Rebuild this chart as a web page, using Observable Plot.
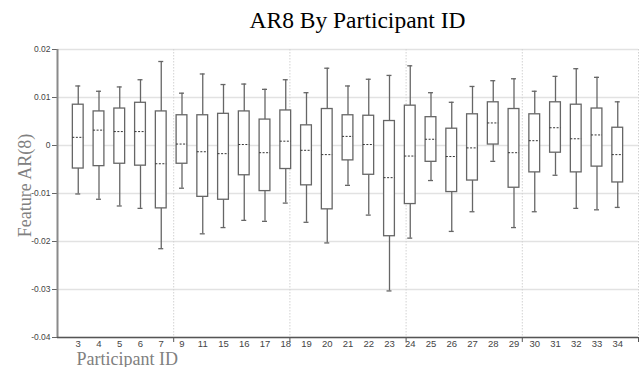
<!DOCTYPE html>
<html>
<head>
<meta charset="utf-8">
<script src="https://cdn.jsdelivr.net/npm/d3@7"></script>
<script src="https://cdn.jsdelivr.net/npm/@observablehq/plot@0.6"></script>
<style>
  html, body { margin: 0; padding: 0; background: #fff; }
  svg { display: block; }
</style>
</head>
<body>
<div id="chart"></div>
<script>
const title = "AR8 By Participant ID";
const xLabel = "Participant ID";
const yLabel = "Feature AR(8)";
const ids = [3,4,5,6,7,9,11,15,16,17,18,19,20,21,22,23,24,25,26,27,28,29,30,31,32,33,34];
const whiskerHigh = [0.0124,0.0113,0.0122,0.0137,0.0175,0.0109,0.0149,0.0127,0.0128,0.0117,0.0137,0.0110,0.0161,0.0124,0.0138,0.0146,0.0166,0.0110,0.0090,0.0123,0.0135,0.0139,0.0113,0.0144,0.0160,0.0142,0.0091];
const q3 = [0.0085,0.0071,0.0077,0.0089,0.0071,0.0063,0.0063,0.0066,0.0071,0.0054,0.0073,0.0042,0.0076,0.0063,0.0062,0.0051,0.0083,0.0059,0.0035,0.0065,0.0090,0.0076,0.0065,0.0090,0.0085,0.0077,0.0037];
const median = [0.0017,0.0032,0.0029,0.0029,-0.0038,0.0003,-0.0013,-0.0017,0.0002,-0.0015,0.0009,-0.0010,-0.0019,0.0019,0.0002,-0.0067,-0.0022,0.0013,-0.0023,-0.0005,0.0047,-0.0015,0.0010,0.0037,0.0014,0.0022,-0.0019];
const q1 = [-0.0048,-0.0043,-0.0038,-0.0042,-0.0131,-0.0038,-0.0107,-0.0113,-0.0062,-0.0095,-0.0049,-0.0083,-0.0133,-0.0031,-0.0061,-0.0189,-0.0122,-0.0034,-0.0097,-0.0073,0.0002,-0.0088,-0.0056,-0.0015,-0.0056,-0.0044,-0.0077];
const whiskerLow = [-0.0101,-0.0112,-0.0126,-0.0131,-0.0215,-0.0089,-0.0184,-0.0171,-0.0156,-0.0158,-0.0120,-0.0160,-0.0203,-0.0083,-0.0145,-0.0303,-0.0193,-0.0073,-0.0179,-0.0138,-0.0033,-0.0171,-0.0138,-0.0062,-0.0131,-0.0134,-0.0129];
const yTicks = [-0.04,-0.03,-0.02,-0.01,0,0.01,0.02];

const table = ids.map((id, i) => ({
  id, pos: i + 1,
  high: whiskerHigh[i], q3: q3[i], median: median[i], q1: q1[i], low: whiskerLow[i]
}));
const n = ids.length + 1;
const gridPos = d3.range(1, 6).map(k => k * n / 5);
const cap = 0.12, half = 0.26;
const boxStroke = "#666";
const serif = "'Liberation Serif', 'Times New Roman', Times, serif";

const chart = Plot.plot({
  width: 641,
  height: 367,
  marginLeft: 57,
  marginRight: 3,
  marginTop: 49,
  marginBottom: 30,
  style: { fontFamily: "'Liberation Sans', Arial, sans-serif", fontSize: "9px", background: "#fff", color: "#444" },
  x: { domain: [0, n], label: null },
  y: { domain: [-0.04, 0.02], label: null },
  marks: [
    Plot.gridY(yTicks, { stroke: "#e2e2e2", strokeOpacity: 1, strokeWidth: 1.5 }),
    Plot.gridX(gridPos, { stroke: "#d2d2d2", strokeOpacity: 1, strokeDasharray: "1.5,1.5" }),
    Plot.axisY(yTicks, {
      tickSize: 5, tickPadding: 2, fontSize: 8.5, stroke: "#666",
      tickFormat: d => d === 0 ? "0" : d.toFixed(2), label: null
    }),
    Plot.axisX(d3.range(1, n), {
      tickSize: 0, tickPadding: 3, fontSize: 9.5, label: null,
      tickFormat: i => String(ids[i - 1])
    }),
    Plot.axisX(gridPos, { tickSize: 5, tickFormat: () => "", stroke: "#555", label: null }),
    Plot.ruleX([0], { stroke: "#8a8a8a", strokeWidth: 2 }),
    Plot.ruleY([-0.04], { stroke: "#555", strokeWidth: 1.5 }),
    // whiskers
    Plot.ruleX(table, { x: "pos", y1: "low", y2: "q1", stroke: boxStroke, strokeWidth: 1.3 }),
    Plot.ruleX(table, { x: "pos", y1: "q3", y2: "high", stroke: boxStroke, strokeWidth: 1.3 }),
    Plot.ruleY(table, { y: "high", x1: d => d.pos - cap, x2: d => d.pos + cap, stroke: boxStroke, strokeWidth: 1.3 }),
    Plot.ruleY(table, { y: "low", x1: d => d.pos - cap, x2: d => d.pos + cap, stroke: boxStroke, strokeWidth: 1.3 }),
    // boxes
    Plot.rect(table, {
      x1: d => d.pos - half, x2: d => d.pos + half, y1: "q1", y2: "q3",
      fill: "#fff", stroke: boxStroke, strokeWidth: 1.3
    }),
    Plot.ruleY(table, {
      y: "median", x1: d => d.pos - half, x2: d => d.pos + half,
      stroke: "#333", strokeWidth: 1, strokeDasharray: "2,1.5"
    }),
    // texts
    Plot.text([title], {
      frameAnchor: "top", textAnchor: "middle", lineAnchor: "bottom", dx: 9.5, dy: -21.5,
      fontFamily: serif, fontSize: 23.5, fill: "#000"
    }),
    Plot.text([yLabel], {
      frameAnchor: "left", textAnchor: "middle", rotate: -90, lineAnchor: "bottom", dx: -27, dy: -8,
      fontFamily: serif, fontSize: 18, fill: "#808080"
    }),
    Plot.text([xLabel], {
      frameAnchor: "bottom-left", textAnchor: "start", lineAnchor: "bottom", dx: 19, dy: 27,
      fontFamily: serif, fontSize: 18, fill: "#808080"
    })
  ]
});
document.getElementById("chart").appendChild(chart);
</script>
</body>
</html>
